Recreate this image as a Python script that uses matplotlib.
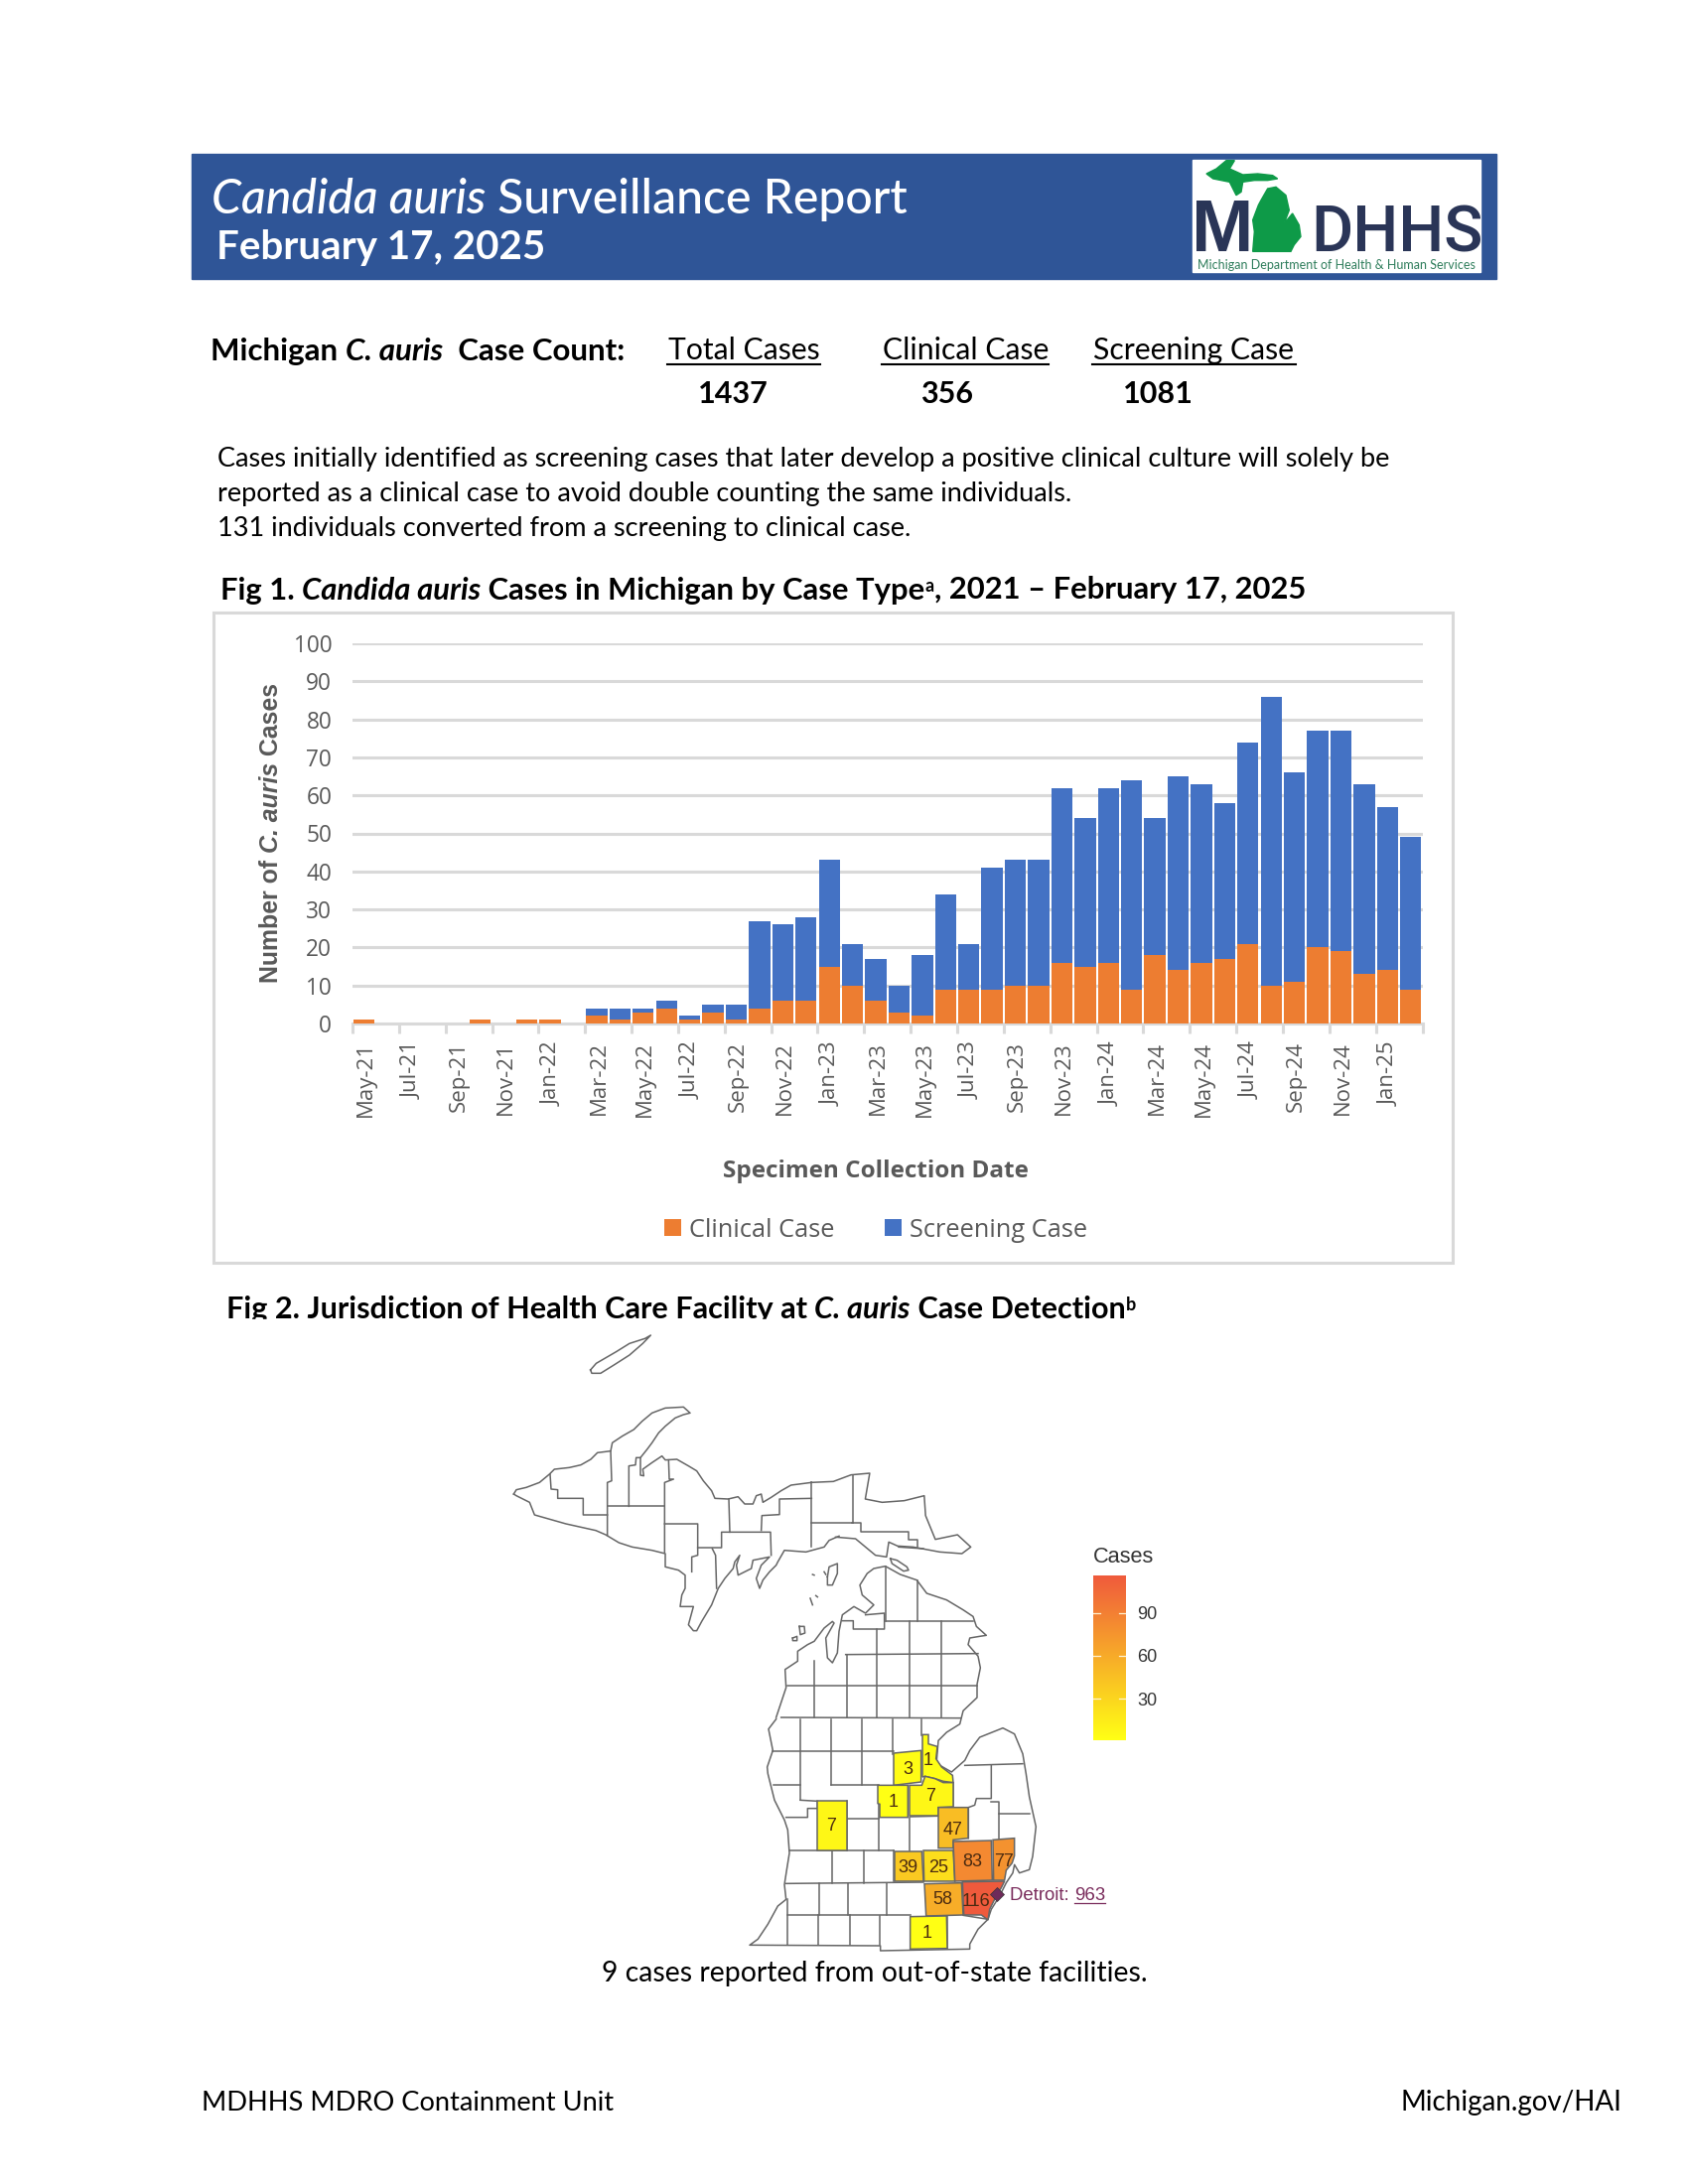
import numpy as np
import matplotlib
matplotlib.use("Agg")
import matplotlib.pyplot as plt
from matplotlib.colors import LinearSegmentedColormap, Normalize
from matplotlib.cm import ScalarMappable
from matplotlib.patches import Polygon, Rectangle
from matplotlib.transforms import ScaledTranslation

# Chart data, May-21 to Feb-25
months = ["May-21", "Jun-21", "Jul-21", "Aug-21", "Sep-21", "Oct-21", "Nov-21", "Dec-21",
          "Jan-22", "Feb-22", "Mar-22", "Apr-22", "May-22", "Jun-22", "Jul-22", "Aug-22",
          "Sep-22", "Oct-22", "Nov-22", "Dec-22", "Jan-23", "Feb-23", "Mar-23", "Apr-23",
          "May-23", "Jun-23", "Jul-23", "Aug-23", "Sep-23", "Oct-23", "Nov-23", "Dec-23",
          "Jan-24", "Feb-24", "Mar-24", "Apr-24", "May-24", "Jun-24", "Jul-24", "Aug-24",
          "Sep-24", "Oct-24", "Nov-24", "Dec-24", "Jan-25", "Feb-25"]
clinical = [1, 0, 0, 0, 0, 1, 0, 1, 1, 0, 2, 1, 3, 4, 1, 3, 1, 4, 6, 6, 15, 10, 6, 3,
            2, 9, 9, 9, 10, 10, 16, 15, 16, 9, 18, 14, 16, 17, 21, 10, 11, 20, 19, 13, 14, 9]
screening = [0, 0, 0, 0, 0, 0, 0, 0, 0, 0, 2, 3, 1, 2, 1, 2, 4, 23, 20, 22, 28, 11, 11, 7,
             16, 25, 12, 32, 33, 33, 46, 39, 46, 55, 36, 51, 47, 41, 53, 76, 55, 57, 58, 50, 43, 40]
y_ticks = list(range(0, 101, 10))

ORANGE = "#ED7D31"
BLUE = "#4472C4"
GRID = "#D9D9D9"
GREY = "#595959"
BODY = "Lato"

fig = plt.figure(figsize=(17, 22), dpi=100)

# page layer in image pixels, y going down
page = fig.add_axes([0, 0, 1, 1])
page.set_xlim(0, 1700)
page.set_ylim(2200, 0)
page.axis("off")
renderer = fig.canvas.get_renderer()


def text_width(s, **kw):
    t = page.text(0, 0, s + "|", **kw)
    w = t.get_window_extent(renderer).width
    t.set_text("|")
    w -= t.get_window_extent(renderer).width
    t.remove()
    return w


# one line of text with mixed styles, each run is (text, weight, style)
def runs(x, y, parts, size, color="black", family=BODY):
    for s, weight, style in parts:
        kw = dict(fontsize=size, fontweight=weight, fontstyle=style, family=family, color=color)
        page.text(x, y, s, va="baseline", ha="left", zorder=6, **kw)
        x += text_width(s, **kw)
    return x


# header band and logo
page.add_patch(Rectangle((193, 155), 1314, 126, color="#2F5597", zorder=1))
page.add_patch(Rectangle((1201, 161), 290, 113, color="white", zorder=2))
z9 = lambda pts: [(1180 + a / 3, 150 + b / 3) for a, b in pts]
logo_up = [(165, 35), (135, 60), (105, 75), (125, 90), (175, 100), (195, 140), (210, 130), (215, 100),
           (250, 95), (290, 95), (320, 90), (305, 80), (260, 75), (215, 78), (175, 60), (190, 35)]
logo_lp = [(245, 310), (250, 250), (245, 215), (262, 170), (270, 155), (290, 120), (315, 115), (345, 140),
           (355, 185), (340, 225), (365, 195), (385, 230), (390, 265), (370, 290), (360, 310)]
page.add_patch(Polygon(z9(logo_up), color="#0E9A48", zorder=4))
page.add_patch(Polygon(z9(logo_lp), color="#0E9A48", zorder=4))
page.text(1200, 253, "M", fontsize=54, fontweight="bold", family="Liberation Sans", color="#2A3557", zorder=3)
page.text(1320, 253, "DHHS", fontsize=46.5, fontweight="medium", family="Roboto", color="#2A3557", zorder=3)
page.text(1346, 267, "Michigan Department of Health & Human Services", fontsize=9, family=BODY,
          color="#2E7D5B", ha="center", va="center", zorder=3)

runs(213, 215, [("Candida auris", "medium", "italic"), (" Surveillance Report", "medium", "normal")], 34.7, "white")
runs(218, 261, [("February 17, 2025", "bold", "normal")], 29, "white")

# case counts
runs(212, 363, [("Michigan ", "bold", "normal"), ("C. auris", "bold", "italic"),
                ("  Case Count:", "bold", "normal")], 22.5)
for label, x0, x1 in [("Total Cases", 672, 826), ("Clinical Case", 888, 1056), ("Screening Case", 1100, 1305)]:
    page.text(x0 + 1, 362, label, fontsize=21.7, family=BODY, va="baseline", zorder=6)
    page.plot([x0, x1], [367, 367], color="black", lw=1.5, zorder=6)
for value, x0 in [("1437", 703), ("356", 927), ("1081", 1131)]:
    page.text(x0, 406, value, fontsize=22, fontweight="bold", family=BODY, va="baseline", zorder=6)

runs(219, 470, [("Cases initially identified as screening cases that later develop a positive clinical culture will solely be", "normal", "normal")], 19.5)
runs(219, 505, [("reported as a clinical case to avoid double counting the same individuals.", "normal", "normal")], 19.5)
runs(219, 540, [("131 individuals converted from a screening to clinical case.", "normal", "normal")], 19.5)

# figure 1 title
end = runs(222, 604, [("Fig 1. ", "bold", "normal"), ("Candida auris", "bold", "italic"),
                      (" Cases in Michigan by Case Type", "bold", "normal")], 22.3)
end = runs(end, 596, [("a", "bold", "normal")], 13)
runs(end, 603, [(", 2021 \u2013 February 17, 2025", "bold", "normal")], 22.3)

# figure 1 frame and chart
page.add_patch(Rectangle((215, 617), 1248, 655, fill=False, edgecolor=GRID, lw=2.2, zorder=1))

ax = fig.add_axes([355 / 1700, 1 - 1031 / 2200, (1432.5 - 355) / 1700, (1031 - 648) / 2200])
ax.patch.set_alpha(0)
x = np.arange(len(months))
ax.bar(x, clinical, width=0.91, color=ORANGE, label="Clinical Case", zorder=3)
ax.bar(x, screening, width=0.91, bottom=clinical, color=BLUE, label="Screening Case", zorder=3)
ax.set_xlim(-0.5, len(months) - 0.5)
ax.set_ylim(0, 100)
ax.set_yticks(y_ticks)
ax.set_yticklabels([str(v) for v in y_ticks], family="Open Sans", fontsize=16.3, color=GREY)
ax.yaxis.grid(True, color=GRID, lw=2.2, zorder=0)
ax.set_axisbelow(True)
ax.tick_params(axis="y", length=0, pad=15)
ax.set_xticks(np.arange(-0.5, len(months), 2))
ax.set_xticklabels([])
ax.set_xticks(x[::2], minor=True)
ax.set_xticklabels(months[::2], minor=True, rotation=90, family="Open Sans", fontsize=16, color=GREY)
ax.tick_params(axis="x", which="major", length=7, width=2.2, color=GRID)
ax.tick_params(axis="x", which="minor", length=0, pad=13)
for t in ax.get_xticklabels(minor=True):
    t.set_transform(t.get_transform() + ScaledTranslation(0.02, 0, fig.dpi_scale_trans))
for s in ["top", "left", "right"]:
    ax.spines[s].set_visible(False)
ax.spines["bottom"].set_color(GRID)
ax.spines["bottom"].set_linewidth(2.2)

# rotated label with italic run, measured along y
yl_parts = [("Number of ", "normal"), ("C. auris", "italic"), (" Cases", "normal")]
yl = 990
for s, style in yl_parts:
    kw = dict(fontsize=17.9, fontweight="bold", fontstyle=style, family="Liberation Sans", color=GREY)
    page.text(273, yl, s, rotation=90, ha="center", va="bottom", rotation_mode="default", zorder=6, **kw)
    yl -= text_width(s, **kw)

page.text(882, 1180, "Specimen Collection Date", ha="center", va="center", fontsize=17.5, fontweight="bold",
          family="Open Sans", color=GREY, zorder=6)
ax.legend(loc="center", bbox_to_anchor=(882 / 1700, 1 - 1239 / 2200), bbox_transform=fig.transFigure, ncol=2,
          frameon=False, handlelength=0.66, handleheight=0.66, handletextpad=0.3, columnspacing=2.0,
          prop={"family": "Open Sans", "size": 18.3}, labelcolor=GREY)

# figure 2 title
end = runs(228, 1328, [("Fig 2. Jurisdiction of Health Care Facility at ", "bold", "normal"), ("C. auris", "bold", "italic"),
                       (" Case Detection", "bold", "normal")], 22.1)
runs(end, 1320, [("b", "bold", "normal")], 13)
page.add_patch(Rectangle((220, 1329), 1000, 20, color="white", zorder=7))

z3 = lambda pts: [(500 + a / 2.24, 1320 + b / 3) for a, b in pts]
z4 = lambda pts: [(750 + a / 3, 1550 + b / 3) for a, b in pts]
z6 = lambda pts: [(510 + a / 3, 1410 + b / 3) for a, b in pts]
z7 = lambda pts: [(780 + a / 3, 1510 + b / 3) for a, b in pts]
z8 = lambda pts: [(760 + a / 3, 1730 + b / 3) for a, b in pts]

up_north_west = [(22, 285), (30, 272), (60, 265), (100, 250), (130, 225), (145, 210), (190, 205), (225, 197),
                 (255, 180), (275, 160), (315, 155), (320, 130), (350, 110), (385, 90), (410, 65), (440, 40),
                 (480, 25), (535, 22), (555, 40), (535, 45), (510, 55), (480, 80), (460, 100), (440, 130),
                 (425, 150), (405, 175), (405, 228), (415, 230), (412, 210), (440, 190), (470, 170), (480, 182),
                 (515, 180), (550, 200), (575, 215), (595, 245), (620, 275), (630, 298), (670, 300), (700, 293),
                 (720, 315), (745, 315), (755, 290), (770, 285), (775, 310), (800, 295), (830, 275), (860, 258),
                 (922, 250)]
up_east = [(710, 520), (760, 517), (800, 497), (842, 492), (832, 570), (870, 580), (920, 575), (965, 560),
           (968, 620), (990, 692), (1040, 678), (1070, 715), (1050, 735), (1000, 730), (940, 715), (905, 712),
           (885, 700), (880, 745), (855, 740), (810, 690), (765, 685)]
up_south = [(1005, 412), (975, 425), (960, 445), (905, 460), (840, 455), (820, 490), (815, 500), (795, 520),
            (775, 545), (765, 570), (755, 540), (770, 500), (795, 475), (770, 480), (745, 485), (740, 510),
            (700, 530), (695, 500), (705, 470), (690, 490), (685, 510), (660, 540), (640, 570), (620, 620),
            (590, 670), (575, 698), (565, 698), (550, 680), (565, 625), (525, 625), (530, 590), (540, 570),
            (540, 530), (520, 515), (480, 505), (480, 465), (440, 455), (380, 445), (340, 432), (300, 408),
            (270, 395), (180, 375), (85, 348), (70, 310), (30, 290), (22, 285)]
up_lines = [[(132, 225), (135, 270), (155, 272), (155, 298), (232, 298), (232, 348), (305, 348)],
            [(315, 155), (318, 245), (305, 250), (305, 410)],
            [(305, 322), (478, 322)],
            [(370, 322), (370, 200), (390, 197), (392, 175), (405, 175)],
            [(490, 182), (492, 240), (505, 240), (478, 250), (478, 460)],
            [(478, 375), (578, 375), (578, 470), (560, 475), (560, 520)],
            [(578, 447), (650, 447), (650, 400), (798, 400), (800, 470)],
            [(672, 300), (675, 400)],
            [(770, 395), (772, 350), (825, 347), (825, 300), (922, 298)],
            [(922, 250), (922, 445)],
            [(922, 373), (1048, 373)],
            [(622, 450), (632, 470), (635, 570)],
            [(1048, 228), (1048, 373)]]
up_lines_east = [[(235, 72), (260, 72), (260, 100), (405, 100), (405, 122), (432, 122), (432, 145)]]
isle_royale = [(212, 180), (225, 160), (270, 125), (300, 100), (335, 85), (348, 75), (330, 100), (300, 135),
               (265, 165), (235, 190), (215, 190), (212, 180)]
islands = [[(160, 235), (165, 205), (190, 195), (190, 225), (175, 260), (160, 260), (160, 235)],
           [(350, 180), (370, 185), (400, 205), (405, 215), (390, 218), (355, 195), (350, 180)],
           [(75, 385), (90, 385), (92, 405), (78, 410), (75, 385)],
           [(55, 420), (68, 415), (68, 428), (55, 428), (55, 420)],
           [(108, 300), (115, 320)], [(125, 292), (130, 296)], [(115, 228), (120, 230)], [(150, 220), (155, 228)],
           [(375, 145), (450, 150)]]

lp_north = [(5, 660), (35, 570), (32, 515), (40, 510), (70, 490), (70, 460), (100, 440), (120, 430), (150, 390),
            (175, 370), (180, 375), (155, 420), (160, 480), (175, 495), (190, 465), (195, 400), (205, 350),
            (240, 325), (275, 345), (300, 320), (265, 290), (258, 260), (280, 225), (300, 210), (335, 203),
            (380, 228), (430, 245), (460, 285), (520, 305), (570, 335), (600, 355), (610, 385), (640, 412),
            (620, 415), (590, 420), (585, 440), (615, 475), (622, 510), (612, 560), (612, 600), (570, 640),
            (560, 680), (520, 705), (495, 730), (490, 790), (500, 805), (535, 825)]
lp_south = [(665, 670), (680, 640), (710, 600), (780, 572), (815, 590), (840, 650), (850, 710), (860, 780),
            (880, 870), (870, 960), (860, 1000), (830, 1010), (815, 985), (810, 1010), (790, 1040), (770, 1080),
            (745, 1120), (735, 1150), (705, 1180), (680, 1225), (680, 1240), (410, 1245), (410, 1230), (15, 1228),
            (40, 1210), (70, 1165), (100, 1110), (125, 1090), (120, 1045), (127, 1000), (135, 950), (130, 880),
            (120, 850), (90, 790), (70, 710), (68, 690), (85, 640), (72, 575), (95, 545)]
lp_lines_n = [[(205, 368), (238, 368), (238, 393), (332, 393), (332, 345), (275, 350)],
              [(335, 368), (600, 368)], [(337, 205), (337, 368)], [(432, 245), (432, 368)],
              [(310, 393), (310, 660)], [(407, 368), (407, 660)], [(503, 368), (503, 660)],
              [(218, 470), (218, 660)], [(120, 490), (120, 660)], [(215, 470), (615, 467)],
              [(40, 565), (612, 565)], [(20, 660), (562, 662)]]
lp_lines_s = [[(168, 545), (168, 790)], [(262, 545), (262, 745)], [(355, 545), (355, 745)], [(448, 545), (448, 650)],
              [(535, 545), (535, 595)], [(85, 643), (450, 643)], [(88, 743), (168, 743)], [(262, 745), (405, 745)],
              [(168, 790), (220, 793), (220, 815), (190, 815), (190, 842), (125, 842)], [(310, 845), (405, 845)],
              [(405, 790), (405, 942)], [(497, 842), (497, 942)], [(500, 840), (585, 838)], [(135, 942), (450, 942)],
              [(310, 793), (310, 942)], [(265, 942), (265, 1040)], [(360, 942), (360, 1040)], [(450, 942), (450, 1035)],
              [(125, 1042), (540, 1038)], [(225, 1040), (225, 1138)], [(313, 1040), (313, 1138)], [(428, 1040), (428, 1138)],
              [(130, 1138), (500, 1138)], [(128, 1090), (128, 1228)], [(222, 1138), (222, 1228)], [(317, 1138), (317, 1228)],
              [(407, 1140), (407, 1228)], [(612, 1138), (612, 1240)], [(660, 1138), (735, 1150)],
              [(665, 685), (840, 680)], [(745, 685), (745, 785), (700, 785), (695, 805), (676, 812), (676, 905)],
              [(630, 738), (630, 812), (585, 812)], [(745, 795), (768, 795), (768, 905)], [(768, 830), (862, 830)]]

# counties with cases: value, polygon, label position
county_values = [7, 3, 1, 7, 1, 47, 39, 25, 83, 77, 116, 58, 1]
county_shapes = [[(190, 253), (280, 253), (280, 402), (190, 402)],
                 [(420, 108), (503, 100), (503, 195), (420, 205)],
                 [(507, 52), (525, 52), (525, 80), (552, 88), (548, 125), (565, 150), (598, 175), (600, 197), (570, 193), (545, 185), (515, 178), (507, 180)],
                 [(468, 205), (505, 205), (515, 178), (545, 185), (570, 197), (600, 197), (600, 270), (555, 272), (555, 297), (468, 297)],
                 [(372, 205), (463, 205), (463, 302), (378, 302), (378, 262), (372, 260)],
                 [(555, 272), (645, 272), (645, 365), (600, 370), (600, 395), (555, 395)],
                 [(423, 405), (505, 405), (510, 495), (423, 495)],
                 [(510, 402), (600, 402), (605, 495), (512, 495)],
                 [(600, 375), (715, 372), (718, 492), (605, 495)],
                 [(720, 370), (785, 365), (785, 418), (778, 440), (760, 462), (755, 492), (722, 492)],
                 [(628, 497), (755, 495), (745, 515), (735, 530), (720, 560), (710, 580), (705, 612), (685, 597), (632, 597)],
                 [(513, 503), (625, 500), (630, 597), (518, 600)],
                 [(470, 602), (580, 600), (582, 698), (470, 700)]]
county_labels = [(262, 870), (492, 698), (555, 672), (560, 780), (450, 798), (628, 880), (493, 993), (585, 993),
                 (688, 975), (782, 975), (698, 1098), (598, 1092), (550, 1193)]

MAP = "#666666"
map_kw = dict(color=MAP, lw=1.1, solid_joinstyle="round", zorder=8)
for pts in [z6(up_north_west), z3(up_east), z6(up_south), z3(isle_royale), z7(lp_north) + z4(lp_south)]:
    page.plot(*zip(*pts), **map_kw)
for pts in [z6(p) for p in up_lines] + [z7(p) for p in up_lines_east] + [z7(p) for p in lp_lines_n] + [z4(p) for p in lp_lines_s] + [z7(p) for p in islands]:
    page.plot(*zip(*pts), **map_kw)

cases_cmap = LinearSegmentedColormap.from_list("cases", ["#FFFF14", "#EF5A3C"])
cases_norm = Normalize(1, 116)
for v, shape, pos in zip(county_values, county_shapes, county_labels):
    page.add_patch(Polygon(z8(shape), facecolor=cases_cmap(cases_norm(v)), edgecolor=MAP, lw=1.1, zorder=9))
    lx, ly = z4([pos])[0]
    page.text(lx, ly, str(v), ha="center", va="center", fontsize=13, family="Liberation Sans", color="#4A2A10", zorder=10)

# Detroit marker
dx, dy = z4([(762, 1073)])[0]
page.plot([dx], [dy], marker="D", ms=7, color="#6E2A5A", mec="#333333", mew=0.5, zorder=11)
end = runs(1017, 1914, [("Detroit: ", "normal", "normal")], 13.4, "#7A2C5C", "Liberation Sans")
end2 = runs(end, 1914, [("963", "normal", "normal")], 13.4, "#7A2C5C", "Liberation Sans")
page.plot([end, end2], [1917, 1917], color="#7A2C5C", lw=0.9, zorder=6)

# colour bar
cax = fig.add_axes([1101 / 1700, 1 - 1753 / 2200, 33 / 1700, 166 / 2200])
cb = fig.colorbar(ScalarMappable(norm=cases_norm, cmap=cases_cmap), cax=cax, ticks=[30, 60, 90])
cb.outline.set_visible(False)
cax.tick_params(length=0, labelsize=13, labelcolor="#333333", pad=8)
for t in cax.get_yticklabels():
    t.set_family("Liberation Sans")
for v in [30, 60, 90]:
    cax.plot([0, 0.2], [v, v], color="#FFF2D0", lw=0.9)
    cax.plot([0.8, 1], [v, v], color="#FFF2D0", lw=0.9)
page.text(1101, 1569, "Cases", fontsize=15.7, family="Liberation Sans", color="#333333", va="center")

# bottom texts
page.text(881, 1988, "9 cases reported from out-of-state facilities.", ha="center", va="center", fontsize=20.4, family=BODY, zorder=6)
page.text(203, 2118, "MDHHS MDRO Containment Unit", va="center", fontsize=19.6, family=BODY)
page.text(1633, 2118, "Michigan.gov/HAI", va="center", ha="right", fontsize=20, family=BODY)

fig.savefig("out.png", dpi=100)
